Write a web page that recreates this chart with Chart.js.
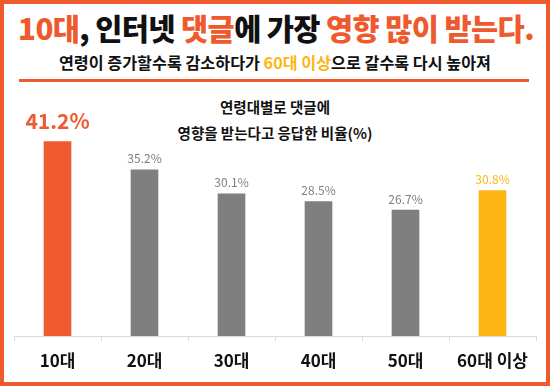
<!DOCTYPE html>
<html>
<head>
<meta charset="utf-8">
<script src="https://cdn.jsdelivr.net/npm/chart.js@4"></script>
<style>
    body { margin: 0; background: #fff; }
    #wrap { position: relative; width: 550px; height: 386px; overflow: hidden; font-family: "Noto Sans CJK KR", sans-serif; }
    #frame { position: absolute; left: 0; top: 0; width: 542px; height: 378px; border: 4px solid #ee5a2e; }
    #title { position: absolute; left: 0; width: 552px; top: 2px; text-align: center; font-size: 29.5px; font-weight: 900; letter-spacing: -0.6px; color: #111; line-height: 50px; }
    #subtitle { position: absolute; left: 0; width: 550px; top: 50px; text-align: center; font-size: 16.2px; font-weight: 700; color: #111; line-height: 24px; }
    #rule { position: absolute; left: 19px; top: 79px; width: 510px; height: 3px; background: #ee5a2e; }
    #inner { position: absolute; left: 125px; width: 300px; top: 94px; text-align: center; font-size: 14.5px; font-weight: 700; color: #111; line-height: 26px; }
    .o { color: #ee5a2e; }
    .y { color: #fdb515; }
    canvas { position: absolute; left: 0; top: 0; }
</style>
</head>
<body>
<div id="wrap">
    <div id="frame"></div>
    <div id="title"><span class="o">10대</span>, 인터넷 <span class="o">댓글</span>에 가장 <span class="o">영향 많이 받는다.</span></div>
    <div id="subtitle">연령이 증가할수록 감소하다가 <span class="y">60대 이상</span>으로 갈수록 다시 높아져</div>
    <div id="rule"></div>
    <div id="inner">연령대별로 댓글에<br>영향을 받는다고 응답한 비율(%)</div>
    <canvas id="chart" width="550" height="386"></canvas>
</div>
<script>
// Data
const ageGroups = ['10대', '20대', '30대', '40대', '50대', '60대 이상'];
const shareInfluenced = [41.2, 35.2, 30.1, 28.5, 26.7, 30.8];
const barColors = ['#f15a2f', '#7f7f7f', '#7f7f7f', '#7f7f7f', '#7f7f7f', '#fdb515'];

// Value labels above bars
const valueLabels = {
    id: 'valueLabels',
    afterDatasetsDraw(chart) {
        const ctx = chart.ctx;
        const meta = chart.getDatasetMeta(0);
        ctx.save();
        ctx.textAlign = 'center';
        ctx.textBaseline = 'middle';
        meta.data.forEach((bar, i) => {
            const text = shareInfluenced[i].toFixed(1) + '%';
            if (i === 0) {
                ctx.font = 'bold 21px "Noto Sans CJK KR", sans-serif';
                ctx.fillStyle = '#ee5a2e';
                ctx.fillText(text, bar.x, bar.y - 21);
            } else {
                ctx.font = '12px "Noto Sans CJK KR", sans-serif';
                ctx.fillStyle = i === 5 ? '#fdb515' : '#7f7f7f';
                ctx.fillText(text, bar.x, bar.y - 11);
            }
        });
        ctx.restore();
    }
};

new Chart(document.getElementById('chart').getContext('2d'), {
    type: 'bar',
    data: {
        labels: ageGroups,
        datasets: [{
            data: shareInfluenced,
            backgroundColor: barColors,
            barThickness: 27
        }]
    },
    options: {
        responsive: false,
        animation: false,
        layout: { padding: { left: 14, right: 14, top: 100, bottom: 0 } },
        scales: {
            x: {
                grid: { drawOnChartArea: false, drawTicks: true, tickLength: 5, color: '#d9d9d9' },
                border: { color: '#d9d9d9' },
                ticks: {
                    color: '#111',
                    padding: 9,
                    font: { family: '"Noto Sans CJK KR", sans-serif', size: 17, weight: 'bold' }
                },
                afterFit: scale => { scale.height = 50; }
            },
            y: {
                display: false,
                min: 0,
                max: 50
            }
        },
        plugins: {
            legend: { display: false },
            tooltip: { enabled: false }
        }
    },
    plugins: [valueLabels]
});
</script>
</body>
</html>
